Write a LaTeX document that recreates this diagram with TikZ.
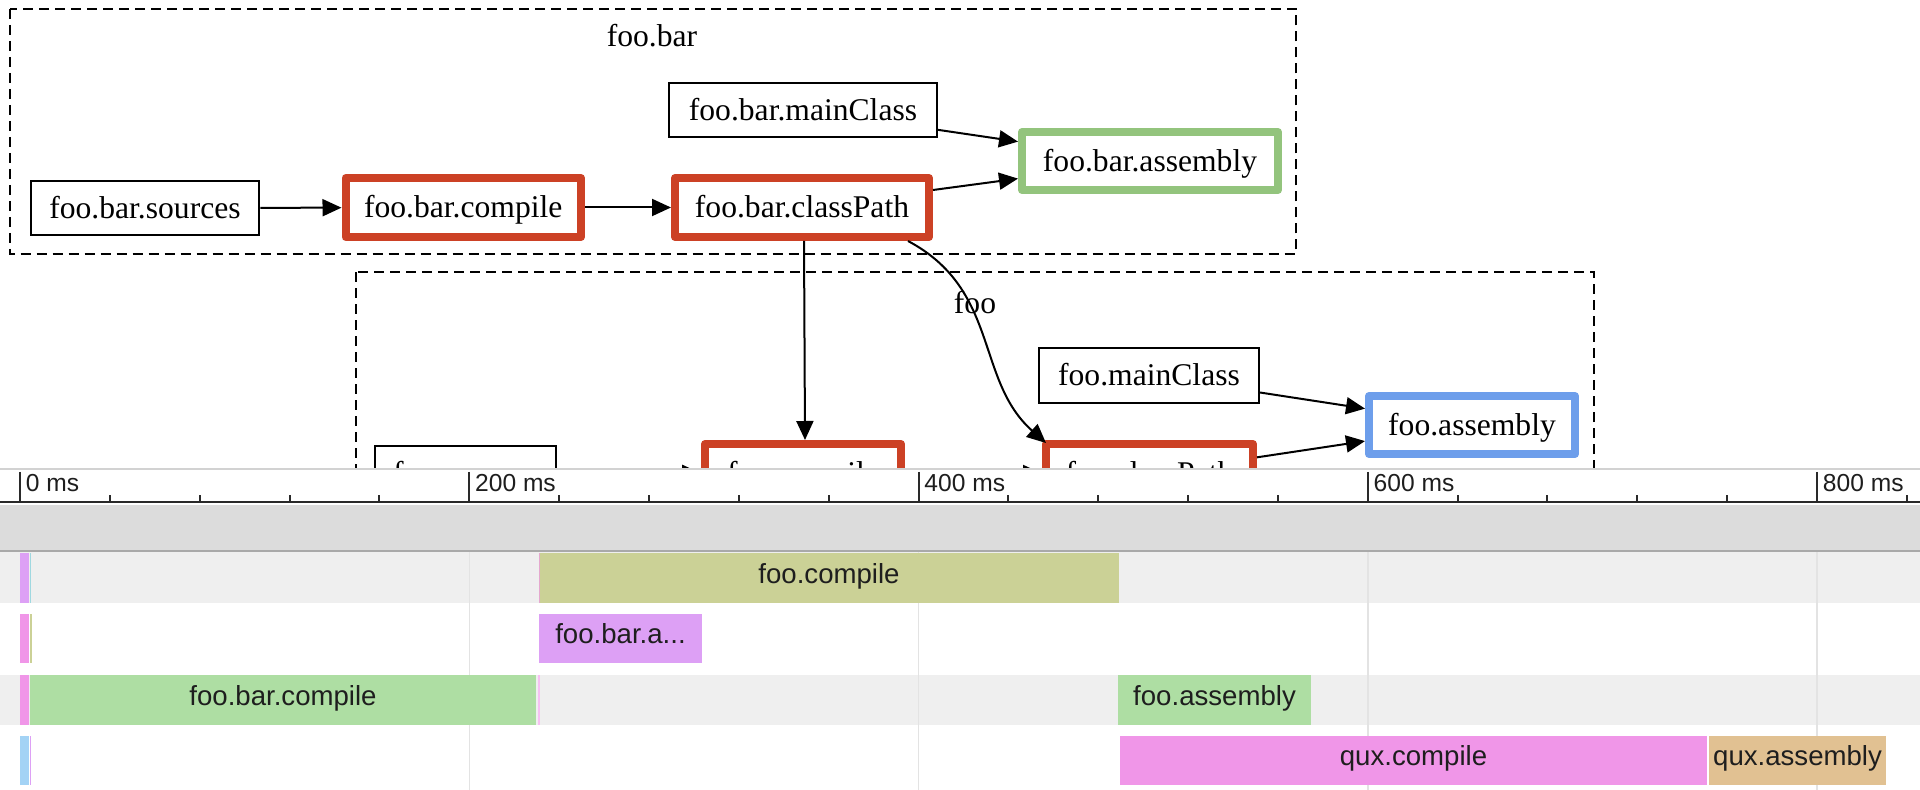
\documentclass[tikz,border=0pt]{standalone}
\usepackage{fontspec}
\newfontfamily\gfont{Liberation Serif}
\newfontfamily\tfont{Liberation Sans}
\usetikzlibrary{arrows.meta}
\definecolor{cRed}{HTML}{CC4125}
\definecolor{cGreen}{HTML}{93C47D}
\definecolor{cBlue}{HTML}{6D9EEB}
\definecolor{bandgray}{HTML}{DCDCDC}
\definecolor{rowgray}{HTML}{EFEFEF}
\definecolor{gridgray}{HTML}{E3E3E3}
\definecolor{topgray}{HTML}{D2D2D2}
\definecolor{bandline}{HTML}{A9A9A9}
\definecolor{rulercol}{HTML}{2A2A2A}
\definecolor{cOlive}{HTML}{CBD196}
\definecolor{cLav}{HTML}{DDA0F5}
\definecolor{cGreenBar}{HTML}{AEDEA3}
\definecolor{cPink}{HTML}{F096E8}
\definecolor{cTan}{HTML}{E1C192}
\definecolor{cLBlue}{HTML}{A3D3F5}
\definecolor{cCyan}{HTML}{9FD8E0}
\definecolor{txtcol}{HTML}{1E1E1E}
\begin{document}
\begin{tikzpicture}[x=0.5pt,y=-0.5pt,
  gnode/.style={inner sep=0pt, font=\gfont\fontsize{15.8}{18}\selectfont, text height=10.7pt, text depth=0.4pt},
  thinbox/.style={gnode, draw=black, line width=1pt},
  thickbox/.style={gnode, draw=#1, line width=4pt, line join=round},
  cluster/.style={draw=black, line width=1pt, dash pattern=on 5pt off 3pt},
  clusterlabel/.style={inner sep=0pt, font=\gfont\fontsize{15.8}{18}\selectfont},
  edgearrow/.style={line width=1pt, -{Triangle[length=9.5pt,width=8.5pt]}},
  bar/.style={fill=#1, inner sep=0pt, minimum height=24.75pt, font=\tfont\fontsize{13.8}{16}\selectfont, text=txtcol, text height=9.9pt, text depth=4.9pt},
  ticklabel/.style={inner sep=0pt, anchor=base west, font=\tfont\fontsize{12.3}{14}\selectfont, text=txtcol},
]
\useasboundingbox (0,0) rectangle (1920,790);
\fill[white] (0,0) rectangle (1920,790);

% ---------- clusters ----------
\draw[cluster] (9.5,9) rectangle (1296,254);
\node[clusterlabel] (lblFooBar) at (652,36) {foo.bar};
\draw[cluster] (355.5,272.5) rectangle (1594,640);
\node[clusterlabel] (lblFoo) at (975,303) {foo};

% ---------- nodes: foo.bar ----------
\node[thinbox, minimum width=114.25pt, minimum height=27pt] (bsrc) at (145,208) {foo.bar.sources};
\node[thickbox=cRed, minimum width=117.75pt, minimum height=29.5pt] (bcomp) at (463.25,207.5) {foo.bar.compile};
\node[thickbox=cRed, minimum width=127pt, minimum height=29.5pt] (bcp) at (802,207.5) {foo.bar.classPath};
\node[thinbox, minimum width=134pt, minimum height=27pt] (bmain) at (803,110) {foo.bar.mainClass};
\node[thickbox=cGreen, minimum width=128pt, minimum height=29pt] (basm) at (1150,161) {foo.bar.assembly};

% ---------- nodes: foo ----------
\node[thinbox, minimum width=110pt, minimum height=27.5pt] (fmain) at (1149,375.5) {foo.mainClass};
\node[thickbox=cBlue, minimum width=103pt, minimum height=29pt] (fasm) at (1472,425) {foo.assembly};
\node[thinbox, minimum width=90.5pt, minimum height=27pt] (fsrc) at (465.5,473) {foo.sources};
\node[thickbox=cRed, minimum width=98pt, minimum height=29.5pt] (fcomp) at (803,473.5) {foo.compile};
\node[thickbox=cRed, minimum width=103.5pt, minimum height=29.5pt] (fcp) at (1149.5,473.5) {foo.classPath};

% ---------- edges ----------
\draw[edgearrow] (bsrc) -- (bcomp);
\draw[edgearrow] (bcomp) -- (bcp);
\draw[edgearrow] (bmain) -- (basm);
\draw[edgearrow] (bcp) -- (basm);
\draw[edgearrow] ([xshift=1pt]bcp.south) -- ([xshift=1pt]fcomp.north);
\draw[edgearrow] ([xshift=53pt]bcp.south) .. controls (1000,290) and (975,380) .. ([xshift=2pt,yshift=-1.5pt]fcp.north west);
\draw[edgearrow] (fmain) -- (fasm);
\draw[edgearrow] (fcp) -- (fasm);
\draw[edgearrow] (fsrc) -- (fcomp);
\draw[edgearrow] (fcomp) -- (fcp);

% ---------- timeline panel ----------
\fill[white] (0,468) rectangle (1920,790);
\draw[topgray, line width=1.3pt] (0,469) -- (1920,469);
% gray band
\fill[bandgray] (0,505) rectangle (1920,551);
\draw[bandline, line width=1pt] (0,551) -- (1920,551);
% ruler
\draw[rulercol, line width=1pt] (0,502) -- (1920,502);
\foreach \i/\lab in {0/0,1/200,2/400,3/600,4/800}{
  \pgfmathsetmacro\xx{20+449.25*\i}
  \draw[rulercol, line width=1pt] (\xx,472) -- (\xx,502);
  \node[ticklabel] (tl\i) at (\xx+5.5,491.5) {\lab{} ms};
}
\foreach \i in {1,2,3,4,6,7,8,9,11,12,13,14,16,17,18,19,21}{
  \pgfmathsetmacro\xx{20+89.85*\i}
  \draw[rulercol, line width=1pt] (\xx,495) -- (\xx,502);
}
% row backgrounds
\fill[rowgray] (0,552) rectangle (1920,603);
\fill[rowgray] (0,675) rectangle (1920,725);
% grid lines
\foreach \xx in {469.5,918.5,1368,1817}{
  \draw[gridgray, line width=0.8pt] (\xx,552) -- (\xx,790);
}
% small bars at left
\fill[cLav] (20,553) rectangle (29,603);
\fill[cCyan] (29.5,553) rectangle (31,603);
\fill[cPink] (20,614) rectangle (29,663);
\fill[cOlive] (30,614) rectangle (32,663);
\fill[cPink] (20,675) rectangle (29,725);
\fill[cLBlue] (20,736) rectangle (29,785);
\fill[cLav] (29.5,736) rectangle (31,785);
% bars
\node[bar=cOlive, minimum width=290pt] (rFooCompile) at (829,578) {foo.compile};
\fill[cPink!70!cOlive] (538.5,553) rectangle (540,603);
\node[bar=cLav, minimum width=81.5pt] (rBarAsm) at (620.5,638.5) {foo.bar.a...};
\node[bar=cGreenBar, minimum width=253pt] (rBarCompile) at (283,700) {foo.bar.compile};
\fill[cPink!60] (538,675) rectangle (540,725);
\node[bar=cGreenBar, minimum width=96.5pt] (rFooAsm) at (1214.5,700) {foo.assembly};
\node[bar=cPink, minimum width=293.5pt] (rQuxCompile) at (1413.5,760.5) {qux.compile};
\node[bar=cTan, minimum width=88.5pt] (rQuxAsm) at (1797.5,760.5) {qux.assembly};
\end{tikzpicture}
\end{document}
